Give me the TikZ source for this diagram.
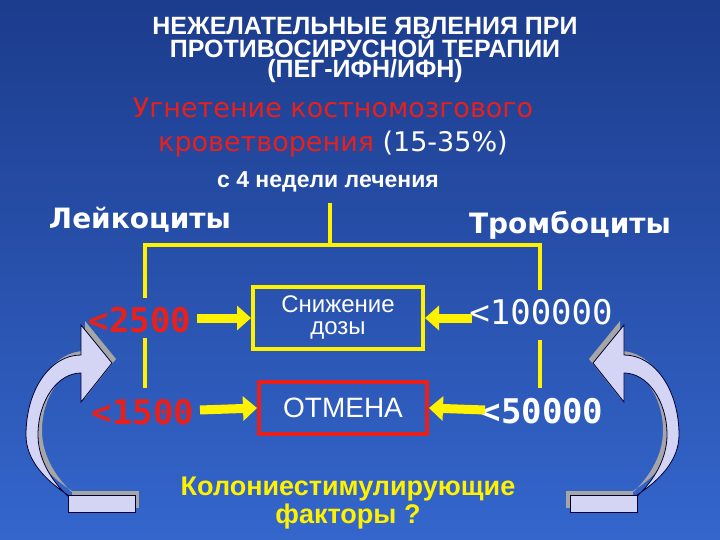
\documentclass[tikz,border=0pt]{standalone}
\usepackage{fontspec}
\setmainfont{Liberation Sans}
\newfontfamily\dvs{DejaVu Sans}
\newfontfamily\dvm{DejaVu Sans Mono}
\usetikzlibrary{arrows.meta}
\definecolor{bgtop}{HTML}{1C3C8C}
\definecolor{bgbot}{HTML}{3466CC}
\definecolor{redt}{HTML}{E8201C}
\definecolor{yel}{HTML}{FFF200}
\definecolor{lav}{HTML}{D4D4F4}
\newcommand\curvshape[1]{%
 \begin{scope}[#1]
 \fill[gray!70,shift={(4,-4)}] (68,495) .. controls (45,480) and (26,460) .. (26,435) .. controls (26,390) and (50,355) .. (81,355) -- (81,325) -- (112,363) -- (81,402) -- (81,373) .. controls (58,373) and (38,400) .. (38,435) .. controls (38,462) and (55,485) .. (70,498) -- cycle;
 \fill[gray!70] (72,491) rectangle (139,508);
 \filldraw[fill=lav,draw=black!80!blue,line width=0.8pt] (68,495) .. controls (45,480) and (26,460) .. (26,435) .. controls (26,390) and (50,355) .. (81,355) -- (81,325) -- (112,363) -- (81,402) -- (81,373) .. controls (58,373) and (38,400) .. (38,435) .. controls (38,462) and (55,485) .. (70,498) -- cycle;
 \filldraw[fill=lav,draw=black!80!blue,line width=0.8pt] (68,495) rectangle (135,512);
 \end{scope}}
\begin{document}
\begin{tikzpicture}[x=1pt,y=-1pt,
  ln/.style={yel,line width=4pt},
  ya/.style={yel,line width=9pt,-{Triangle[length=14pt,width=24pt]}},
  wt/.style={white,font=\bfseries\fontsize{25}{21}\selectfont,inner sep=0pt},
  num/.style={font=\dvm\bfseries\fontsize{34}{34}\selectfont,inner sep=0pt},
  boxs/.style={line width=4pt,minimum width=170pt,text=white,align=center},
  mirr/.style={xshift=705pt,xscale=-1}]
\shade[top color=bgtop,bottom color=bgbot] (0,0) rectangle (720,540);
\useasboundingbox (0,0) rectangle (720,540);
\node[wt,align=center] (title) at (365,50) {НЕЖЕЛАТЕЛЬНЫЕ ЯВЛЕНИЯ ПРИ\\[-1pt]ПРОТИВОСИРУСНОЙ ТЕРАПИИ\\[-1pt](ПЕГ-ИФН/ИФН)};
\node[redt,font=\dvs\fontsize{27}{34}\selectfont,align=center,inner sep=0pt] (sup) at (333,127) {Угнетение костномозгового\\кроветворения \textcolor{white}{(15-35\%)}};
\node[wt,font=\bfseries\fontsize{23}{24}\selectfont] (week) at (328,182) {с 4 недели лечения};
\node[wt,font=\dvs\bfseries\fontsize{28}{28}\selectfont] (leu) at (140,220) {Лейкоциты};
\node[wt,font=\dvs\bfseries\fontsize{28}{28}\selectfont] (thr) at (570,225) {Тромбоциты};
\coordinate (t) at (330,203); \coordinate (m) at (330,245);
\coordinate (l0) at (145,245); \coordinate (r0) at (540,245);
\coordinate (l1) at (145,298); \coordinate (l2) at (145,338); \coordinate (l3) at (145,388);
\coordinate (r1) at (540,290); \coordinate (r2) at (540,340); \coordinate (r3) at (540,388);
\draw[ln] (t) -- (m);
\draw[ln] (l1) -- (l0) -- (r0) -- (r1);
\draw[ln] (l2) -- (l3); \draw[ln] (r2) -- (r3);
\node[num,redt] (a1) at (140,320) {<2500};
\node[num,redt] (a2) at (143,412) {<1500};
\node[num,white,font=\dvm\fontsize{34}{34}\selectfont] (b1) at (541,312) {<100000};
\node[num,white] (b2) at (542,411) {<50000};
\node[boxs,draw=yel,minimum height=62pt,font=\fontsize{24}{22}\selectfont] (dose) at (338,318) {Снижение\\дозы};
\node[boxs,draw=redt,minimum height=52pt,minimum width=168pt,font=\fontsize{28}{28}\selectfont] (stop) at (343,408) {ОТМЕНА};
\coordinate (s1) at (197,318); \coordinate (s2) at (200,410);
\coordinate (e1) at (472,318); \coordinate (e2) at (485,410);
\draw[ya] (s1) -- (dose.west);
\draw[ya] (s2) -- (stop.west);
\draw[ya] (e1) -- (dose.east);
\draw[ya] (e2) -- (stop.east);
\node[yel,font=\bfseries\fontsize{27}{28}\selectfont,align=center,inner sep=0pt] (csf) at (348,503) {Колониестимулирующие\\факторы ?};
\curvshape{}
\curvshape{mirr}
\end{tikzpicture}
\end{document}
